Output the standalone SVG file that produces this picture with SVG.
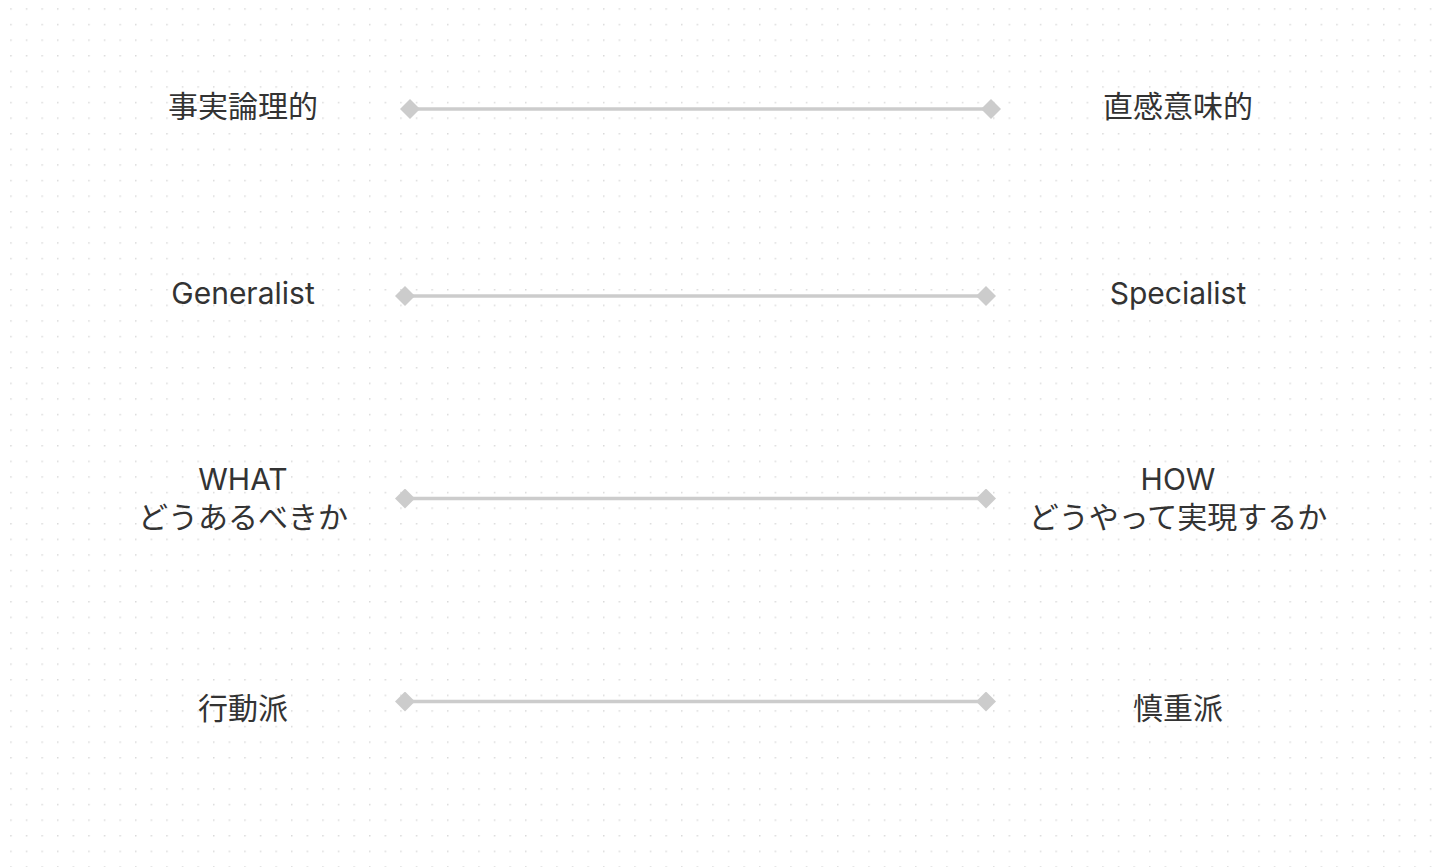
<svg xmlns="http://www.w3.org/2000/svg" width="1440" height="867" viewBox="0 0 1440 867">
<defs>
<pattern id="dots" x="10.2" y="8.2" width="15.6" height="15.6" patternUnits="userSpaceOnUse">
<rect x="0" y="0" width="1.5" height="1.5" fill="#dadada"/>
</pattern>
<marker id="dia" viewBox="-10 -10 20 20" markerWidth="20" markerHeight="20" refX="0" refY="0" markerUnits="userSpaceOnUse">
<path d="M0,-10 L10,0 L0,10 L-10,0 Z" fill="#cccccc"/>
</marker>
<style>
.lbl{font-family:Inter,"Noto Sans CJK JP",sans-serif;font-size:30px;fill:#333333;text-anchor:middle}
.conn{stroke:#cccccc;stroke-width:3.5;fill:none;marker-start:url(#dia);marker-end:url(#dia)}
</style>
</defs>
<rect width="1440" height="867" fill="#ffffff"/>
<rect width="1440" height="867" fill="url(#dots)"/>
<g id="connectors">
<line class="conn" x1="410" y1="109" x2="991" y2="109"/>
<line class="conn" x1="405" y1="296" x2="986" y2="296"/>
<line class="conn" x1="405" y1="498.5" x2="986" y2="498.5"/>
<line class="conn" x1="405" y1="701.5" x2="986" y2="701.5"/>
</g>
<g id="n1l"><text class="lbl" x="243" y="117">事実論理的</text></g>
<g id="n1r"><text class="lbl" x="1178" y="117">直感意味的</text></g>
<g id="n2l"><text class="lbl" x="243" y="304">Generalist</text></g>
<g id="n2r"><text class="lbl" x="1178" y="304">Specialist</text></g>
<g id="n3l"><text class="lbl" x="243" y="490">WHAT</text><text class="lbl" x="243" y="528">どうあるべきか</text></g>
<g id="n3r"><text class="lbl" x="1178" y="490">HOW</text><text class="lbl" x="1178" y="528">どうやって実現するか</text></g>
<g id="n4l"><text class="lbl" x="243" y="719">行動派</text></g>
<g id="n4r"><text class="lbl" x="1178" y="719">慎重派</text></g>
</svg>
